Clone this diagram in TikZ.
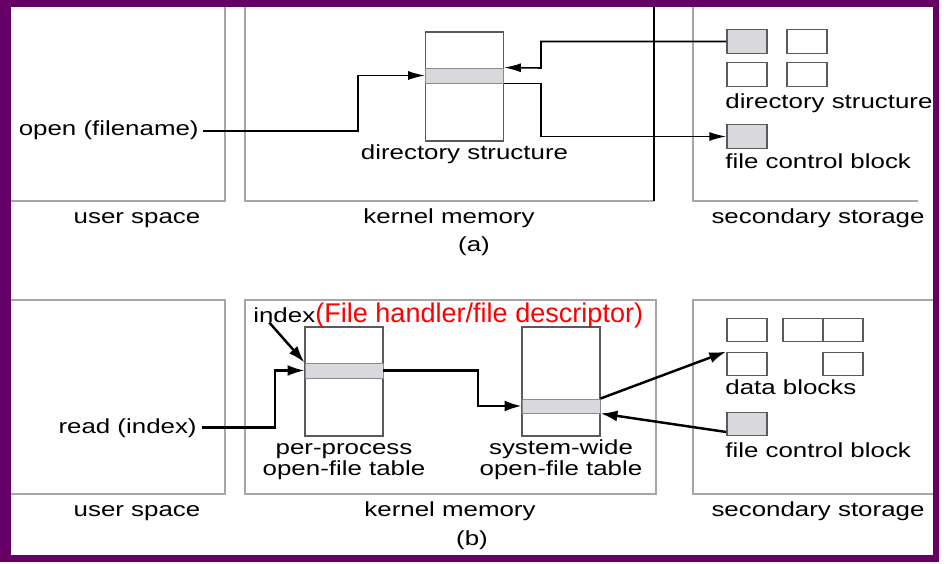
\documentclass[tikz,border=0pt]{standalone}
\usepackage{fontspec}
\setmainfont{Liberation Sans}[FakeStretch=1.27]
\newfontfamily\plainsans{Liberation Sans}
\usetikzlibrary{arrows.meta}
\definecolor{frame}{HTML}{660066}
\definecolor{rule}{HTML}{A6A6A6}
\definecolor{edge}{HTML}{5A5A5A}
\definecolor{entry}{HTML}{D9D8DC}
\definecolor{note}{HTML}{FF0000}

\begin{document}
\begin{tikzpicture}[x=0.02cm,y=-0.02cm,font=\fontsize{11.6}{10.8}\selectfont]
\tikzset{
  region/.style={draw=rule,line width=0.8pt},
  tbl/.style={draw=edge,fill=white,line width=0.7pt,minimum width=1.56cm,minimum height=2.18cm,inner sep=0pt},
  entryband/.style={draw=edge!70,fill=entry,line width=0.5pt,minimum width=1.56cm,inner sep=0pt},
  blk/.style={draw=edge,fill=white,line width=0.8pt,minimum width=0.8cm,minimum height=0.47cm,inner sep=0pt},
  lbl/.style={inner sep=0pt,anchor=base},
  flowa/.style={-{Latex[length=0.34cm,width=0.18cm]},line width=0.9pt},
  flowb/.style={-{Latex[length=0.34cm,width=0.22cm]},line width=1.4pt}
}
\useasboundingbox (0,0) rectangle (947,564);
\fill[frame] (0,0) rectangle (939,562);
\fill[white] (11,7) rectangle (933,555);

\draw[region] (11,201) -- (225,201) -- (225,7);
\draw[region] (245,7) -- (245,201) -- (654,201);
\draw[line width=0.8pt] (654,201) -- (654,7);
\draw[region] (693,7) -- (693,201) -- (918,201);
\node[lbl] (usra) at (137,224) {user space};
\node[lbl] (kera) at (449,224) {kernel memory};
\node[lbl] (seca) at (818,224) {secondary storage};
\node[lbl] (capa) at (474,252) {(a)};

\node[tbl] (dirtab) at (464.5,86.5) {};
\node[entryband,minimum height=0.3cm] (dirent) at (464.5,75.5) {};
\node[lbl] (dirlbl) at (464.5,160) {directory structure};
\node[blk,fill=entry] (sd1) at (747,41.5) {};
\node[blk] (sd2) at (807,41.5) {};
\node[blk] (sd3) at (747,74.5) {};
\node[blk] (sd4) at (807,74.5) {};
\node[lbl,anchor=base west] (sdlbl) at (725,109) {directory structure};
\node[blk,fill=entry] (fcba) at (747,136.5) {};
\node[lbl,anchor=base west] (fcbalbl) at (725,169) {file control block};
\node[lbl,anchor=base east] (open) at (199,136) {open (filename)};

\draw[flowa,shorten <=0.08cm] (open.east) -| (358,75.5) -- (dirent.west);
\draw[flowa] (sd1.west) -| (541,68) -- (dirent.north east);
\draw[flowa] (dirent.south east) -| (541,136.5) -- (fcba.west);

\draw[region] (11,300) -- (225,300) -- (225,494) -- (11,494);
\draw[region] (245,300) rectangle (656,494);
\draw[region] (933,300) -- (693,300) -- (693,494) -- (933,494);
\node[lbl] (usrb) at (137,516) {user space};
\node[lbl] (kerb) at (450,516) {kernel memory};
\node[lbl] (secb) at (818,516) {secondary storage};
\node[lbl] (capb) at (472,545) {(b)};

\node[tbl] (pptab) at (344,381.5) {};
\node[entryband,minimum height=0.3cm] (ppent) at (344,370.5) {};
\node[tbl] (swtab) at (561,381.5) {};
\node[entryband,minimum height=0.28cm] (swent) at (561,406) {};
\node[lbl,align=center] (pplbl) at (344,475) {per-process\\open-file table};
\node[lbl,align=center] (swlbl) at (561,475) {system-wide\\open-file table};
\node[lbl,anchor=base east] (read) at (197,433) {read (index)};
\node[lbl,anchor=base west] (idx) at (253,322) {index};
\node[lbl,anchor=base west,text=note,font=\plainsans\fontsize{15.4}{18}\selectfont] (fhd) at (315,322) {(File handler/file descriptor)};

\node[blk] (db1) at (747,330) {};
\node[blk] (db2) at (803,330) {};
\node[blk] (db3) at (843,330) {};
\node[blk] (db4) at (747,364) {};
\node[blk] (db5) at (843,364) {};
\node[lbl,anchor=base west] (dblbl) at (725,395) {data blocks};
\node[blk,fill=entry] (fcbb) at (747,424) {};
\node[lbl,anchor=base west] (fcbblbl) at (725,457) {file control block};

\draw[flowb,shorten <=0.1cm] (read.east) -| (275,370.5) -- (ppent.west);
\draw[flowb] ([xshift=-0.3cm]idx.south) -- (ppent.north west);
\draw[flowb] (ppent.east) -| (478,406) -- (swent.west);
\draw[flowb] (swent.north east) -- (db4.north west);
\draw[flowb] ([yshift=-0.16cm]fcbb.west) -- (swent.south east);
\end{tikzpicture}
\end{document}
